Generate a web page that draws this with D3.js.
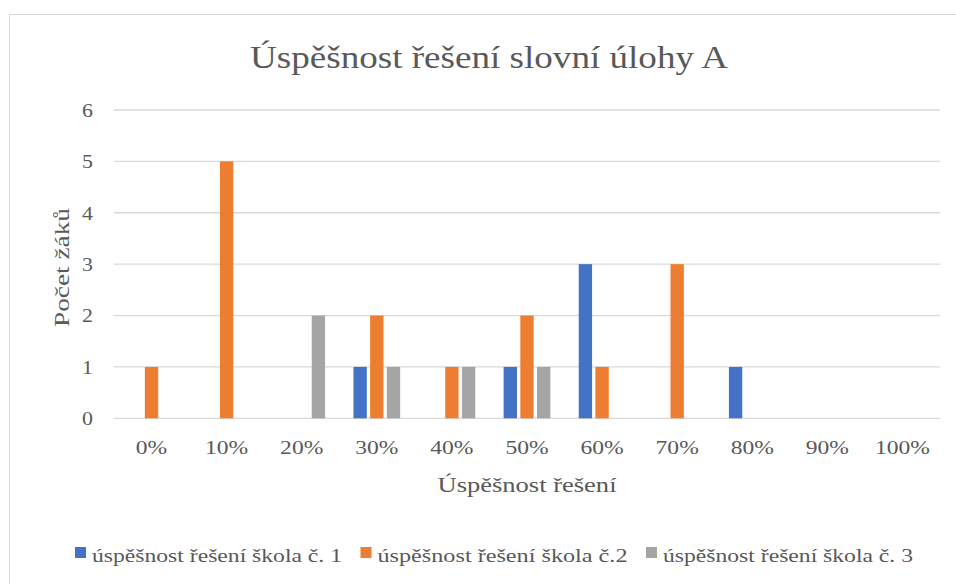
<!DOCTYPE html>
<html>
<head>
<meta charset="utf-8">
<script src="https://cdn.jsdelivr.net/npm/d3@7"></script>
<style>
  body { margin: 0; background: #fff; }
</style>
</head>
<body>
<div id="chart"></div>
<script>
var width = 956;
var height = 584;
var font = "'Liberation Serif', 'Times New Roman', 'DejaVu Serif', serif";

// kategorie a hodnoty
var categories = ["0%", "10%", "20%", "30%", "40%", "50%", "60%", "70%", "80%", "90%", "100%"];
var seriesNames = ["úspěšnost řešení škola č. 1", "úspěšnost řešení škola č.2", "úspěšnost řešení škola č. 3"];
var skola1 = [0, 0, 0, 1, 0, 1, 3, 0, 1, 0, 0];
var skola2 = [1, 5, 0, 2, 1, 2, 1, 3, 0, 0, 0];
var skola3 = [0, 0, 2, 1, 1, 1, 0, 0, 0, 0, 0];
var yTicks = [0, 1, 2, 3, 4, 5, 6];
var colors = ["#4472C4", "#ED7D31", "#A5A5A5"];

var mtitle = "Úspěšnost řešení slovní úlohy A";
var xtitle = "Úspěšnost řešení";
var ytitle = "Počet žáků";

var margin = {left: 114, right: 16, top: 110, bottom: 166};

/* roztáhne text na požadovanou šířku (náhradní písmo je užší) */
function stretch(sel, factor, target) {
  sel.each(function () {
    var len = target || this.getComputedTextLength() * factor;
    d3.select(this)
      .attr("textLength", len)
      .attr("lengthAdjust", "spacingAndGlyphs");
  });
}

const svg = d3.select("#chart").append("svg")
  .attr("width", width)
  .attr("height", height)
  .attr("font-family", font)
  .style("font-family", font);

/* rámeček grafu */
svg.append("rect")
  .attr("x", 9.5)
  .attr("y", 14.5)
  .attr("width", 980)
  .attr("height", 620)
  .attr("fill", "none")
  .attr("stroke", "#D9D9D9")
  .attr("stroke-width", 1);

const x0 = d3.scaleBand()
  .domain(categories)
  .range([margin.left, width - margin.right]);

const x1 = d3.scaleBand()
  .domain(d3.range(seriesNames.length))
  .range([0, x0.bandwidth()])
  .paddingInner(0.2)
  .paddingOuter(0.85);

const y = d3.scaleLinear()
  .domain([0, 6])
  .range([height - margin.bottom + 0.3, margin.top]);

/* mřížka */
svg.append("g")
  .attr("class", "grid")
  .selectAll("line")
  .data(yTicks)
  .enter().append("line")
  .attr("x1", margin.left)
  .attr("x2", width - margin.right)
  .attr("y1", d => y(d))
  .attr("y2", d => y(d))
  .attr("stroke", "#D9D9D9")
  .attr("stroke-width", 1.3);

/* popisky osy y */
svg.append("g")
  .selectAll("text")
  .data(yTicks)
  .enter().append("text")
  .attr("x", 93)
  .attr("y", d => y(d))
  .attr("dy", "0.36em")
  .attr("text-anchor", "end")
  .attr("fill", "#595959")
  .style("font-size", "19px")
  .text(d => d)
  .call(stretch, 1.15);

/* sloupce */
var data = [skola1, skola2, skola3];
const groups = svg.append("g")
  .selectAll("g")
  .data(categories)
  .enter().append("g")
  .attr("transform", d => "translate(" + x0(d) + ",0)");

groups.selectAll("rect")
  .data(function (d, i) {
    return data.map(function (s, k) { return {k: k, value: s[i]}; });
  })
  .enter().append("rect")
  .filter(d => d.value > 0)
  .attr("x", d => x1(d.k))
  .attr("width", x1.bandwidth())
  .attr("y", d => y(d.value))
  .attr("height", d => y(0) - y(d.value))
  .attr("fill", d => colors[d.k]);

/* popisky osy x */
svg.append("g")
  .selectAll("text")
  .data(categories)
  .enter().append("text")
  .attr("x", d => x0(d) + x0.bandwidth() / 2)
  .attr("y", 454)
  .attr("text-anchor", "middle")
  .attr("fill", "#595959")
  .style("font-size", "19px")
  .text(d => d)
  .call(stretch, 1.24);

/* titulky */
svg.append("text")
  .attr("x", 489)
  .attr("y", 68)
  .attr("text-anchor", "middle")
  .attr("fill", "#595959")
  .style("font-size", "31px")
  .text(mtitle)
  .call(stretch, 1, 478);

svg.append("text")
  .attr("x", 527)
  .attr("y", 492)
  .attr("text-anchor", "middle")
  .attr("fill", "#595959")
  .style("font-size", "21px")
  .text(xtitle)
  .call(stretch, 1, 179);

svg.append("text")
  .attr("transform", "translate(69,267.5) rotate(-90)")
  .attr("text-anchor", "middle")
  .attr("fill", "#595959")
  .style("font-size", "21px")
  .text(ytitle)
  .call(stretch, 1, 119);

/* legenda */
const legend = svg.append("g")
  .attr("class", "legend");

var item = legend.selectAll("g")
  .data(seriesNames)
  .enter().append("g");

item.append("rect")
  .attr("width", 11)
  .attr("height", 11)
  .attr("y", 547)
  .attr("fill", (d, i) => colors[i]);

item.append("text")
  .attr("x", 17)
  .attr("y", 562)
  .attr("fill", "#595959")
  .style("font-size", "19px")
  .text(d => d)
  .call(stretch, 1, 250);

var pos = 75;
item.each(function () {
  d3.select(this).attr("transform", "translate(" + pos + ",0)");
  pos += 17 + 250 + 18.5;
});
</script>
</body>
</html>
